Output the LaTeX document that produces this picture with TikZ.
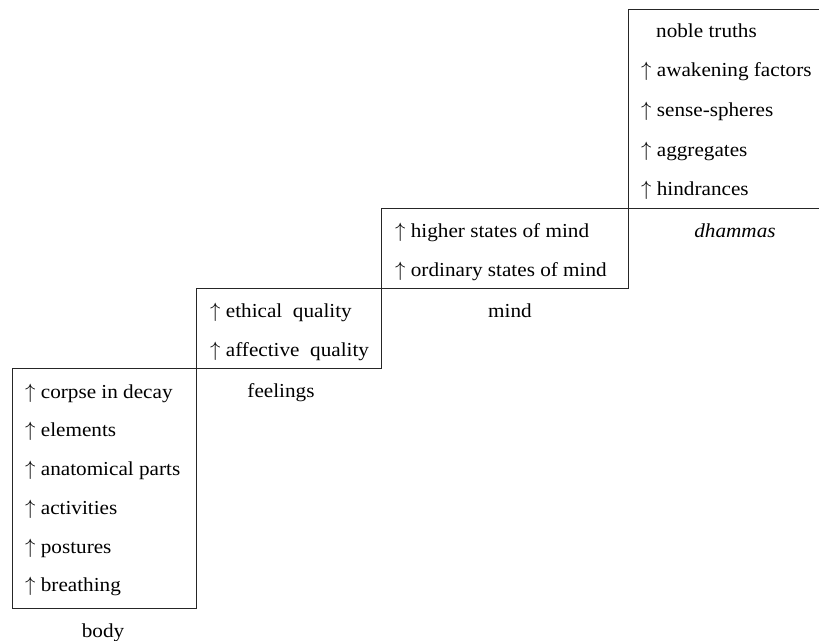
\documentclass[tikz,border=0pt]{standalone}
\usepackage{fontspec}
\setmainfont{Liberation Serif}[FakeStretch=1.07]
\begin{document}
\begin{tikzpicture}[x=1pt,y=-1pt,
  boxline/.style={draw=black!85, line width=0.9pt},
  item/.style={anchor=base west, inner sep=0pt, font=\fontsize{19.8}{23}\selectfont},
  caption/.style={anchor=base, inner sep=0pt, font=\fontsize{19.8}{23}\selectfont}]
\useasboundingbox (0,0) rectangle (819,640);
% boxes
\draw[boxline] (12,368) rectangle (196,608);
\draw[boxline] (196,288) rectangle (381,368);
\draw[boxline] (381,208) rectangle (628,288);
\draw[boxline] (819,9) -- (628,9) -- (628,208) -- (819,208);
% body
\node[item] (b1) at (25,398) {$\uparrow$ corpse in decay};
\node[item] (b2) at (25,436) {$\uparrow$ elements};
\node[item] (b3) at (25,475) {$\uparrow$ anatomical parts};
\node[item] (b4) at (25,514) {$\uparrow$ activities};
\node[item] (b5) at (25,553) {$\uparrow$ postures};
\node[item] (b6) at (25,591) {$\uparrow$ breathing};
\node[caption] (body) at (103,637) {body};
% feelings
\node[item] (f1) at (210,317) {$\uparrow$ ethical\ \ quality};
\node[item] (f2) at (210,356) {$\uparrow$ affective\ \ quality};
\node[caption] (feel) at (281,397) {feelings};
% mind
\node[item] (m1) at (395,237) {$\uparrow$ higher states of mind};
\node[item] (m2) at (395,276) {$\uparrow$ ordinary states of mind};
\node[caption] (mind) at (510,317) {mind};
% dhammas
\node[item] (d1) at (656,37) {noble truths};
\node[item] (d2) at (641,76) {$\uparrow$ awakening factors};
\node[item] (d3) at (641,116) {$\uparrow$ sense-spheres};
\node[item] (d4) at (641,156) {$\uparrow$ aggregates};
\node[item] (d5) at (641,195) {$\uparrow$ hindrances};
\node[caption] (dham) at (735,237) {\itshape dhammas};
\end{tikzpicture}
\end{document}
